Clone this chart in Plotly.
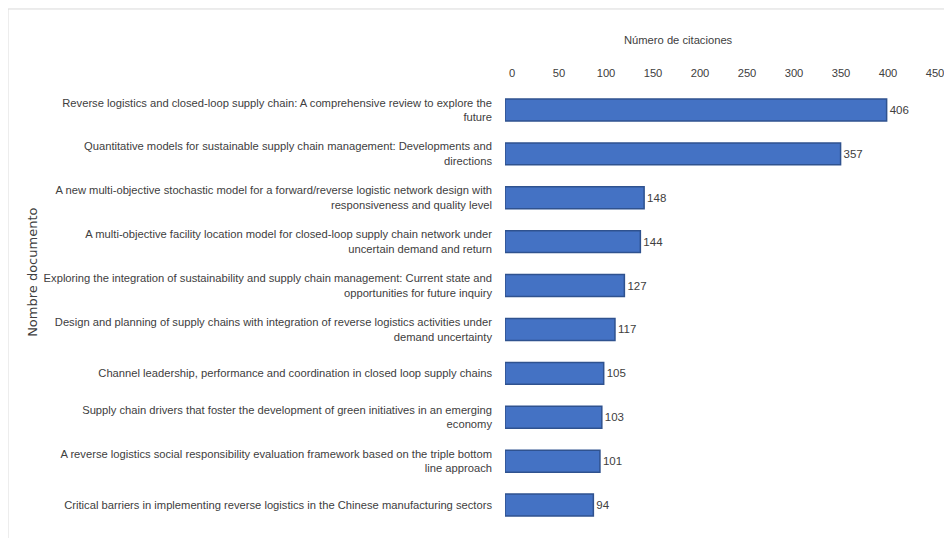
import plotly.graph_objects as go

documentos = [
    "Reverse logistics and closed-loop supply chain: A comprehensive review to explore the<br>future",
    "Quantitative models for sustainable supply chain management: Developments and<br>directions",
    "A new multi-objective stochastic model for a forward/reverse logistic network design with<br>responsiveness and quality level",
    "A multi-objective facility location model for closed-loop supply chain network under<br>uncertain demand and return",
    "Exploring the integration of sustainability and supply chain management: Current state and<br>opportunities for future inquiry",
    "Design and planning of supply chains with integration of reverse logistics activities under<br>demand uncertainty",
    "Channel leadership, performance and coordination in closed loop supply chains",
    "Supply chain drivers that foster the development of green initiatives in an emerging<br>economy",
    "A reverse logistics social responsibility evaluation framework based on the triple bottom<br>line approach",
    "Critical barriers in implementing reverse logistics in the Chinese manufacturing sectors",
]
citaciones = [406, 357, 148, 144, 127, 117, 105, 103, 101, 94]
x_ticks = [0, 50, 100, 150, 200, 250, 300, 350, 400, 450]

FONT = "Liberation Sans, Arial, sans-serif"
GRAY = "#404040"

fig = go.Figure(go.Bar(
    y=documentos,
    x=citaciones,
    orientation="h",
    marker=dict(color="#4472C4", line=dict(color="#2F528F", width=1.5)),
    text=citaciones,
    textposition="outside",
    textfont=dict(family=FONT, size=11.5, color=GRAY),
    cliponaxis=False,
))

fig.update_layout(
    width=936, height=530,
    margin=dict(l=497, r=16, t=80, b=11),
    paper_bgcolor="white", plot_bgcolor="white",
    bargap=0.5,
    showlegend=False,
    font=dict(family=FONT, size=11.2, color=GRAY),
    xaxis=dict(
        side="top", range=[0, 450], tickvals=x_ticks, showgrid=False,
        zeroline=False, showline=False, ticks="", automargin=False,
        ticklabelshift=7, ticklabelstandoff=8, ticklabeloverflow="allow",
        tickfont=dict(family=FONT, size=11.2, color=GRAY),
    ),
    yaxis=dict(
        autorange="reversed", showgrid=False, zeroline=False, showline=False,
        ticks="", automargin=False, ticklabelstandoff=12,
        tickfont=dict(family=FONT, size=11.2, color=GRAY),
    ),
    shapes=[
        dict(type="line", xref="paper", yref="paper", x0=-1.175, x1=1.06, y0=1.18, y1=1.18,
             line=dict(color="#D9D9D9", width=1)),
        dict(type="line", xref="paper", yref="paper", x0=-1.175, x1=-1.175, y0=1.18, y1=-0.05,
             line=dict(color="#D9D9D9", width=1)),
    ],
    annotations=[
        dict(text="Número de citaciones", xref="paper", yref="paper", x=0.409, y=1.109,
             xanchor="center", yanchor="middle", showarrow=False,
             font=dict(family=FONT, size=11.2, color=GRAY)),
        dict(text="Nombre documento", xref="paper", yref="paper", x=-1.116, y=0.581,
             xanchor="center", yanchor="middle", textangle=-90, showarrow=False,
             font=dict(family="DejaVu Sans, sans-serif", size=13, color=GRAY)),
    ],
)

fig.write_html("out.html")
